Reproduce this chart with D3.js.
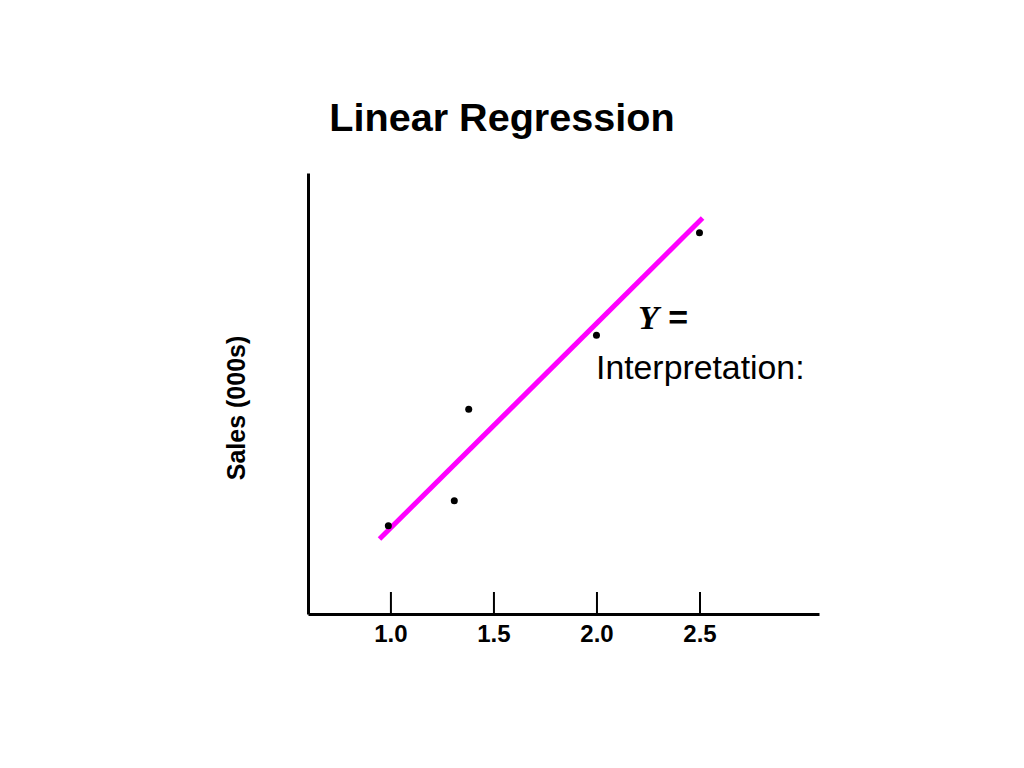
<!DOCTYPE html>
<html>
<head>
<meta charset="utf-8">
<script src="https://cdn.jsdelivr.net/npm/d3@7"></script>
<style>
  body { margin: 0; background: #fff; }
  svg { display: block; }
</style>
</head>
<body>
<svg id="chart" width="1024" height="768"></svg>
<script>
// ---- data ----
const pricesX = [0.99, 1.31, 1.38, 2.0, 2.5];
const salesY = [1.80, 2.31, 4.18, 5.69, 7.78];
const lineX = [0.947, 2.515];
const lineY = [1.53, 8.08];
const tickValues = [1.0, 1.5, 2.0, 2.5];
const tickLabels = ["1.0", "1.5", "2.0", "2.5"];
const titleText = "Linear Regression";
const yLabel = "Sales (000s)";

const svg = d3.select("#chart");
const x = d3.scaleLinear().domain([0.6, 3.08]).range([308, 819]);
const y = d3.scaleLinear().domain([0, 9]).range([614, 173]);

// title
svg.append("text")
  .attr("x", 502).attr("y", 131)
  .attr("text-anchor", "middle")
  .style("font-family", "Liberation Sans, Arial, sans-serif")
  .style("font-weight", "bold").style("font-size", "39.6px")
  .text(titleText);

// x axis
const xAxis = d3.axisBottom(x)
  .tickValues(tickValues)
  .tickFormat((d, i) => tickLabels[i])
  .tickSizeInner(-22).tickSizeOuter(0).tickPadding(11);
const gx = svg.append("g").attr("transform", "translate(0,614)").call(xAxis);
gx.select(".domain").attr("stroke", "#000").attr("stroke-width", 3);
gx.selectAll(".tick line").attr("stroke", "#000").attr("stroke-width", 2);
gx.selectAll(".tick text")
  .style("font-family", "Liberation Sans, Arial, sans-serif")
  .style("font-weight", "bold").style("font-size", "24px").attr("fill", "#000");

// y axis
const yAxis = d3.axisLeft(y).tickValues([]).tickSizeOuter(0);
const gy = svg.append("g").attr("transform", "translate(308,0)").call(yAxis);
gy.select(".domain").attr("stroke", "#000").attr("stroke-width", 3);

// y label
svg.append("text")
  .attr("transform", "translate(245,408) rotate(-90)")
  .attr("text-anchor", "middle")
  .style("font-family", "Liberation Sans, Arial, sans-serif")
  .style("font-weight", "bold").style("font-size", "25px")
  .text(yLabel);

// regression line
const lineData = lineX.map((d, i) => [d, lineY[i]]);
svg.append("path")
  .datum(lineData)
  .attr("d", d3.line().x(d => x(d[0])).y(d => y(d[1])))
  .attr("stroke", "#ff00ff").attr("stroke-width", 5).attr("fill", "none");

// points
svg.selectAll("circle.pt")
  .data(pricesX.map((d, i) => [d, salesY[i]]))
  .enter().append("circle")
  .attr("class", "pt")
  .attr("cx", d => x(d[0])).attr("cy", d => y(d[1]))
  .attr("r", 3.5).attr("fill", "#000");

// annotation
const ann = svg.append("text").attr("x", 638).attr("y", 329)
  .style("font-size", "34px");
ann.append("tspan")
  .style("font-family", "Liberation Serif, Times New Roman, serif")
  .style("font-style", "italic").style("font-weight", "bold")
  .text("Y");
ann.append("tspan")
  .style("font-family", "Liberation Sans, Arial, sans-serif")
  .style("font-weight", "bold")
  .text(" =");

svg.append("text").attr("x", 596).attr("y", 379)
  .style("font-family", "Liberation Sans, Arial, sans-serif")
  .style("font-size", "33.8px")
  .text("Interpretation:");
</script>
</body>
</html>
